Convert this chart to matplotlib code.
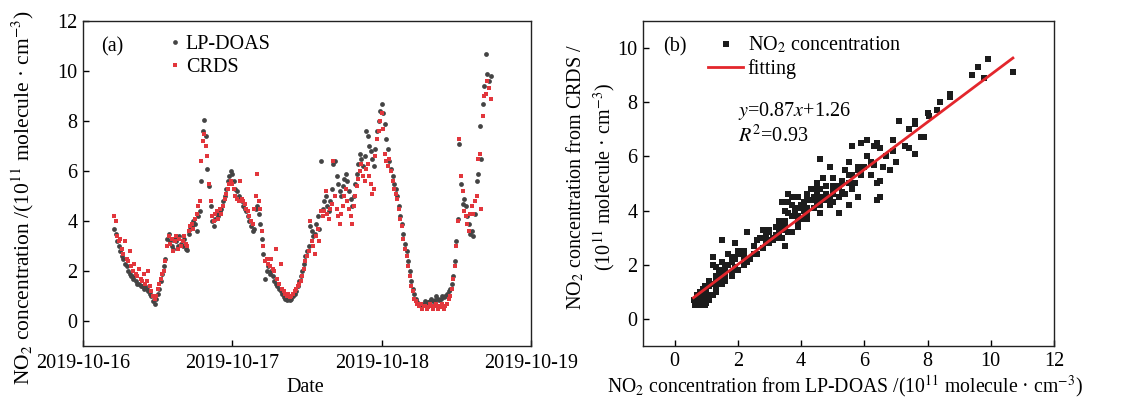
import numpy as np
import pandas as pd
import matplotlib
matplotlib.use("Agg")
import matplotlib.pyplot as plt
import matplotlib.dates as mdates
from matplotlib.lines import Line2D

plt.rcParams['font.family'] = ['Liberation Serif', 'DejaVu Serif']
plt.rcParams['mathtext.fontset'] = 'stix'

# ---------------- data ----------------
start_time = "2019-10-16 05:00"
sample_freq = "15min"

# LP-DOAS NO2 (1e11 molecule/cm3), one row per hour (05:00 ... 65:00)
lpdoas = [
    3.7, 3.5, 3.2, 3.0,
    2.8, 2.6, 2.5, 2.3,
    2.2, 2.0, 1.9, 1.8,
    1.7, 1.8, 1.6, 1.5,
    1.5, 1.4, 1.4, 1.3,
    1.4, 1.3, 1.2, 1.1,
    1.0, 0.8, 0.7, 0.9,
    1.1, 1.3, 1.6, 1.9,
    2.2, 2.5, 3.3, 3.5,
    3.2, 3.0, 2.9, 3.3,
    3.2, 3.0, 3.4, 3.1,
    3.0, 3.3, 2.9, 2.85,
    3.5, 3.7, 3.8, 4.0,
    3.9, 3.6, 4.2, 4.4,
    5.6, 7.6, 8.05, 7.4,
    6.1, 5.4, 4.6, 4.0,
    3.8, 4.1, 4.3, 4.2,
    4.4, 4.5, 4.8, 5.0,
    5.3, 5.6, 5.8, 6.0,
    5.9, 5.6, 5.3, 5.2,
    5.0, 4.9, 4.8, 4.6,
    4.5, 4.4, 4.2, 4.0,
    3.8, 3.6, 3.7, 4.5,
    4.6, 4.3, 3.9, 3.3,
    2.7, 1.7, 2.0, 2.2,
    1.9, 2.0, 1.8, 1.6,
    1.5, 1.4, 1.3, 1.2,
    1.1, 0.95, 0.9, 0.85,
    0.9, 0.85, 0.9, 1.0,
    1.1, 1.2, 1.4, 1.6,
    1.8, 2.0, 2.3, 2.6,
    2.8, 3.0, 3.8, 3.6,
    3.4, 3.5, 3.9, 4.2,
    3.7, 6.4, 4.5, 4.8,
    5.0, 4.6, 4.4, 4.8,
    5.3, 6.3, 6.4, 5.8,
    5.5, 5.2, 5.0, 5.4,
    5.7, 5.9, 5.6, 5.2,
    4.9, 4.6, 5.0, 5.5,
    5.9, 6.3, 6.7, 6.5,
    6.2, 6.6, 7.6, 7.4,
    7.0, 6.8, 6.5, 6.2,
    6.9, 7.6, 8.0, 8.4,
    8.7, 8.3, 7.9, 7.3,
    6.9, 6.4, 6.1, 5.8,
    5.5, 5.3, 5.0, 4.6,
    4.2, 3.9, 3.5, 3.1,
    2.8, 2.4, 2.0, 1.6,
    1.3, 1.1, 0.9, 0.75,
    0.7, 0.6, 0.65, 0.7,
    0.8, 0.7, 0.75, 0.8,
    0.9, 0.8, 0.85, 1.0,
    0.9, 0.85, 0.9, 1.0,
    0.95, 1.0, 1.1, 1.2,
    1.3, 1.5, 1.8, 2.4,
    3.2, 4.1, 7.1, 5.5,
    4.7, 4.9, 4.6, 4.2,
    3.9, 3.5, 3.6, 3.4,
    4.3, 5.6, 5.9, 7.8,
    6.5, 8.7, 9.4, 10.7,
    9.9, 9.6, 9.8,
]

# CRDS NO2 at the same times
crds = [
    4.2, 4.0, 3.4, 3.2,
    3.3, 2.9, 2.7, 3.2,
    2.5, 2.4, 2.8, 2.2,
    2.0, 2.3, 1.9, 1.8,
    2.1, 1.7, 1.6, 1.9,
    1.5, 1.6, 2.0, 1.4,
    1.2, 1.0, 0.9, 1.0,
    1.3, 1.5, 1.7, 1.9,
    2.0, 2.4, 3.0, 3.4,
    3.1, 3.3, 2.8, 3.2,
    3.4, 2.9, 3.3, 3.0,
    3.2, 3.4, 3.1, 3.0,
    3.6, 3.8, 3.9, 3.7,
    4.1, 4.3, 4.6, 4.8,
    6.4, 7.2, 7.5, 7.0,
    6.6, 5.5, 4.8, 4.2,
    4.0, 4.3, 4.4, 4.1,
    4.5, 4.3, 4.6, 4.9,
    5.1, 5.3, 5.5, 5.6,
    5.5, 5.3, 5.0, 4.9,
    4.8, 5.6, 4.9, 4.8,
    4.7, 4.5, 4.4, 4.2,
    4.0, 3.9, 4.5, 5.0,
    5.9, 4.8, 4.5, 3.6,
    3.0, 2.4, 2.5, 2.3,
    2.2, 2.5, 2.1, 2.0,
    2.9, 1.7, 1.5, 2.3,
    1.3, 1.2, 1.1, 1.0,
    1.1, 0.95, 1.0, 1.1,
    1.2, 1.3, 1.4, 1.5,
    1.6, 1.8, 2.1, 2.4,
    2.6, 2.8, 4.0, 3.2,
    3.0, 2.7, 3.4, 3.7,
    3.2, 4.4, 4.2, 4.4,
    5.2, 4.3, 4.1, 4.5,
    4.7, 6.4, 5.0, 4.5,
    4.2, 3.9, 4.3, 4.6,
    5.0, 5.3, 4.8, 4.5,
    4.2, 3.9, 4.6, 5.0,
    5.4, 5.7, 6.0, 6.3,
    5.8, 5.6, 6.1, 6.3,
    5.8, 5.5, 5.1, 5.3,
    6.6, 7.3, 7.6, 8.0,
    8.3, 7.7, 6.7, 6.4,
    6.2, 6.5, 6.0, 5.6,
    5.3, 5.1, 4.9, 4.5,
    4.1, 3.8, 3.3, 2.9,
    2.6, 2.2, 1.8, 1.4,
    1.2, 0.9, 0.8, 0.7,
    0.6, 0.7, 0.5, 0.6,
    0.6, 0.5, 0.55, 0.7,
    0.6, 0.5, 0.6, 0.7,
    0.5, 0.6, 0.55, 0.7,
    0.5, 0.6, 0.7, 0.9,
    1.0, 1.3, 1.7, 2.2,
    3.0, 4.0, 7.3, 5.8,
    5.2, 4.4, 4.2, 3.9,
    3.6, 4.3, 4.6, 4.3,
    4.8, 5.0, 6.5, 6.7,
    4.5, 8.2, 9.0, 9.1,
    9.6, 9.3, 8.9,
]

date_ticks = ["2019-10-16", "2019-10-17", "2019-10-18", "2019-10-19"]
fit_slope = 0.876
fit_intercept = 0.26
fit_text = r"$y$=0.87$x$+1.26" + "\n" + r"$R^2$=0.93"

times = pd.date_range(start_time, periods=len(lpdoas), freq=sample_freq)
lp = np.array(lpdoas)
cr = np.array(crds)

# ---------------- figure ----------------
fig = plt.figure(figsize=(11.27, 3.97), dpi=100)
W, H = 1127, 397
def ax_rect(x0, y0, x1, y1):
    return [x0 / W, 1 - y1 / H, (x1 - x0) / W, (y1 - y0) / H]

ax1 = fig.add_axes(ax_rect(83, 21, 531, 346))
ax2 = fig.add_axes(ax_rect(643, 21, 1054, 346))

GRAY = "#444444"
RED = "#e2363c"
FS = 14.5
LFS = 15.5

# ---- panel (a)
ax1.scatter(times, lp, s=12, marker="o", color=GRAY, linewidths=0, zorder=2)
ax1.scatter(times, cr, s=11, marker="s", color=RED, linewidths=0, zorder=3)
ax1.set_xlim(pd.Timestamp(date_ticks[0]), pd.Timestamp(date_ticks[-1]))
ax1.set_ylim(-1, 12)
ax1.set_xticks([pd.Timestamp(d) for d in date_ticks])
ax1.xaxis.set_major_formatter(mdates.DateFormatter("%Y-%m-%d"))
ax1.set_yticks([0, 2, 4, 6, 8, 10, 12])
ax1.set_xlabel("Date", fontsize=FS)
ax1.xaxis.set_label_coords(0.496, -0.1)
ax1.set_ylabel(r"NO$_2$ concentration /(10$^{11}$ molecule · cm$^{-3}$)", fontsize=LFS)
ax1.yaxis.set_label_coords(-0.105, 0.455)
ax1.text(0.04, 0.92, "(a)", transform=ax1.transAxes, fontsize=FS, va="center")
h1 = [Line2D([], [], ls="none", marker="o", ms=3.4, color=GRAY, mew=0),
      Line2D([], [], ls="none", marker="s", ms=3.4, color=RED, mew=0)]
ax1.legend(h1, ["LP-DOAS", "CRDS"], loc="upper left", bbox_to_anchor=(0.16, 1.0),
           frameon=False, fontsize=FS, handlelength=0.6, handletextpad=0.25,
           labelspacing=0.2, borderaxespad=0.3)

# ---- panel (b)
ax2.scatter(lp, cr, s=15, marker="s", color="#1c1c1c", linewidths=0, zorder=2)
xf = np.array([lp.min(), lp.max()])
ax2.plot(xf, fit_slope * xf + fit_intercept, color="#e3262c", lw=2, zorder=3)
ax2.set_xlim(-1, 12)
ax2.set_ylim(-1, 11)
ax2.set_xticks([0, 2, 4, 6, 8, 10, 12])
ax2.set_yticks([0, 2, 4, 6, 8, 10])
ax2.set_xlabel(r"NO$_2$ concentration from LP-DOAS /(10$^{11}$ molecule · cm$^{-3}$)", fontsize=14.2)
ax2.xaxis.set_label_coords(0.49, -0.082)
ax2.set_ylabel("NO$_2$ concentration from CRDS /\n" + r"(10$^{11}$ molecule · cm$^{-3}$)",
               fontsize=FS, linespacing=1.25)
ax2.yaxis.set_label_coords(-0.063, 0.52)
ax2.text(0.05, 0.92, "(b)", transform=ax2.transAxes, fontsize=FS, va="center")
ax2.text(0.23, 0.685, fit_text, transform=ax2.transAxes, fontsize=FS, va="center",
         linespacing=1.2)
h2 = [Line2D([], [], ls="none", marker="s", ms=3.8, color="#1c1c1c", mew=0),
      Line2D([], [], color="#e3262c", lw=2)]
ax2.legend(h2, [r"NO$_2$ concentration", "fitting"], loc="upper left",
           bbox_to_anchor=(0.125, 1.0), frameon=False, fontsize=FS,
           handlelength=1.7, handletextpad=0.25, labelspacing=0.15, borderaxespad=0.3)

for ax in (ax1, ax2):
    ax.tick_params(direction="in", length=4, width=1, labelsize=FS, top=False, right=False)
    ax.tick_params(axis="y", pad=4)
    for sp in ax.spines.values():
        sp.set_linewidth(1.0)
        sp.set_color("#222222")
ax1.tick_params(axis="x", pad=6)
ax2.tick_params(axis="x", pad=4)

fig.savefig("out.png", dpi=100)
